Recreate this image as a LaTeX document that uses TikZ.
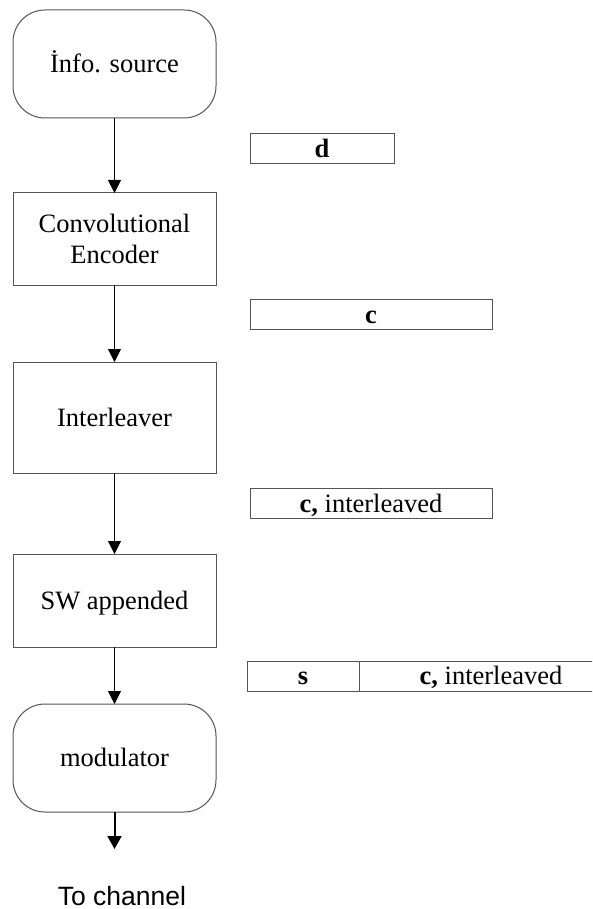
\documentclass[tikz,border=0pt]{standalone}
\usepackage{fontspec}
\setmainfont{Liberation Serif}
\newfontfamily\arialfont{Liberation Sans}
\usetikzlibrary{arrows.meta}
\definecolor{edge}{RGB}{85,85,85}
\tikzset{
  every node/.style={inner sep=0pt, outer sep=0pt,
    font=\fontsize{26.5}{31.6}\selectfont},
  blockbox/.style={draw=edge, line width=1pt, minimum width=203pt},
  termbox/.style={blockbox, rounded corners=32pt, minimum height=108pt},
  onetext/.style={text height=17.5pt, text depth=0pt},
  databox/.style={draw=edge, line width=1pt, minimum height=30pt, onetext},
  flow/.style={line width=1pt, -{Triangle[length=13pt,width=13pt]}},
  outflow/.style={line width=2pt, -{Triangle[length=13pt,width=14pt]}}
}
\begin{document}
\begin{tikzpicture}[x=1pt,y=-1pt]
\clip (0,0) rectangle (592,909);
\fill[white] (0,0) rectangle (592,909);

% processing chain
\node[termbox, onetext] (src) at (114.5,64) {İnfo. source};
\node[blockbox, minimum height=92pt, align=center] (enc) at (114.5,239) {Convolutional\\Encoder};
\node[blockbox, minimum height=111pt, onetext] (intl) at (114.5,417.5) {Interleaver};
\node[blockbox, minimum height=93pt, onetext] (sw) at (114.5,600.5) {SW appended};
\node[termbox, onetext] (mod) at (114.5,758) {modulator};
\coordinate (out) at (114.5,849);
\node[font=\arialfont\fontsize{26.5}{31.6}\selectfont, onetext] (chan) at (122,897) {To channel};

\draw[flow] (src) -- (enc);
\draw[flow] (enc) -- (intl);
\draw[flow] (intl) -- (sw);
\draw[flow] (sw) -- (mod);
\draw[outflow] (mod) -- (out);

% frame contents after each stage
\node[databox, minimum width=144pt] (d) at (322,148.5) {\textbf{d}};
\node[databox, minimum width=242pt] (c) at (371,314.5) {\textbf{c}};
\node[databox, minimum width=242pt] (ci) at (371,503.5) {\textbf{c,} interleaved};
\node[databox, minimum width=112pt] (s) at (303,676) {\textbf{s}};
\node[databox, minimum width=264pt, anchor=west] (cs) at (s.east) {\textbf{c,} interleaved};
\end{tikzpicture}
\end{document}
